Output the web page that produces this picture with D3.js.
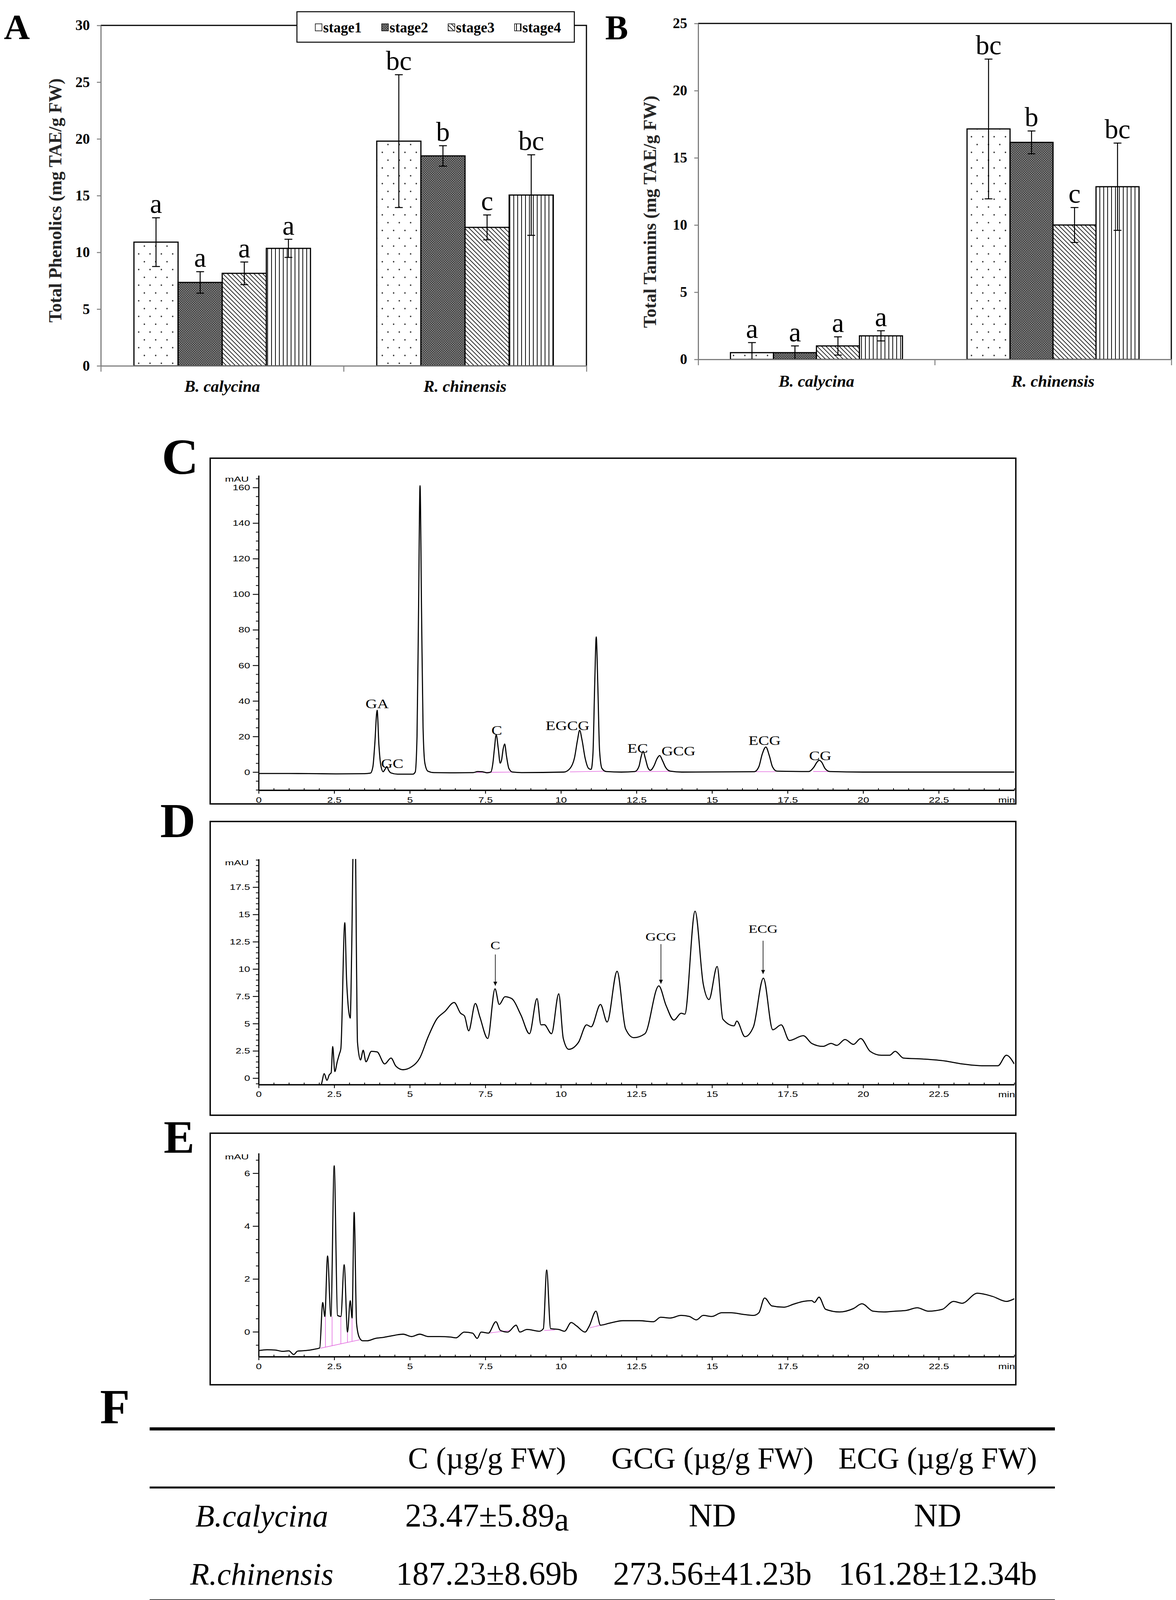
<!DOCTYPE html>
<html>
<head>
<meta charset="utf-8">
<script src="https://cdn.jsdelivr.net/npm/d3@7"></script>
<style>
  body { margin: 0; background: #fff; }
  svg { display: block; }
</style>
</head>
<body>
<svg id="fig" width="3010" height="4126"></svg>
<script>
// ---------- data ----------
const groups = ['B. calycina', 'R. chinensis'];
const stages = ['stage1', 'stage2', 'stage3', 'stage4'];

const phenolicsMean = [[10.9, 7.35, 8.15, 10.35], [19.8, 18.5, 12.2, 15.05]];
const phenolicsErr = [[2.15, 0.95, 1.0, 0.8], [5.85, 0.9, 1.1, 3.55]];
const phenolicsLetters = [['a', 'a', 'a', 'a'], ['bc', 'b', 'c', 'bc']];

const tanninsMean = [[0.5, 0.5, 1.0, 1.75], [17.15, 16.15, 10.0, 12.85]];
const tanninsErr = [[0.75, 0.5, 0.68, 0.38], [5.2, 0.85, 1.3, 3.25]];
const tanninsLetters = [['a', 'a', 'a', 'a'], ['bc', 'b', 'c', 'bc']];

// chromatogram traces [min, mAU]
const chromC = [[0, -0.8], [1.0, -0.8], [1.9, -0.9], [2.6, -1.0], [3.5, -0.9], [3.7, -0.6], [3.78, 3], [3.84, 15], [3.92, 34.8], [3.98, 15], [4.04, 4], [4.12, 0.2], [4.18, 1.5], [4.24, 3.1], [4.3, 1], [4.38, -0.5], [4.6, -1.2], [5.1, -1.2], [5.18, 0], [5.24, 20], [5.29, 90], [5.34, 161], [5.39, 90], [5.44, 25], [5.5, 5], [5.6, 0.5], [5.8, -0.3], [6.5, -0.4], [7.1, -0.3], [7.25, 0.3], [7.4, 0.2], [7.55, -0.4], [7.68, 0], [7.75, 5], [7.8, 13], [7.86, 21], [7.93, 13], [7.99, 5], [8.04, 7], [8.09, 13], [8.14, 15.8], [8.2, 9], [8.28, 2], [8.4, 0], [8.7, -0.3], [10.1, 0], [10.3, 2], [10.45, 8], [10.55, 18], [10.62, 23.5], [10.7, 18], [10.8, 8], [10.92, 2], [11.0, 1.5], [11.06, 10], [11.12, 50], [11.17, 76], [11.22, 50], [11.28, 12], [11.36, 2], [11.5, 0.3], [12.0, 0], [12.45, 0.3], [12.58, 3], [12.66, 9], [12.72, 11.7], [12.79, 8], [12.88, 2.5], [12.96, 1], [13.08, 3.5], [13.18, 7.5], [13.27, 9.3], [13.36, 6.5], [13.47, 2.5], [13.62, 0.5], [14.0, 0], [16.4, 0.2], [16.55, 3], [16.66, 10], [16.78, 14.1], [16.9, 9], [17.0, 3], [17.15, 0.5], [18.2, 0.3], [18.38, 3], [18.47, 5.5], [18.55, 6.6], [18.63, 5.5], [18.74, 2], [18.9, 0.3], [20, 0], [25, 0]];

const chromD = [[2.0, -1.2], [2.08, -0.54], [2.17, 0.41], [2.26, -0.2], [2.34, 0.32], [2.4, 0.5], [2.45, 2.9], [2.52, 0.6], [2.6, 1.5], [2.67, 2.2], [2.72, 2.7], [2.85, 14.25], [2.91, 9], [2.96, 6.7], [3.03, 5.5], [3.08, 12], [3.13, 21], [3.2, 21], [3.24, 10], [3.27, 3.3], [3.37, 1.66], [3.46, 2.55], [3.55, 1.5], [3.73, 2.46], [3.92, 2.4], [4.17, 1.3], [4.38, 1.84], [4.54, 1.1], [4.78, 0.77], [5.06, 1.04], [5.33, 1.84], [5.61, 3.8], [5.89, 5.4], [6.16, 6.1], [6.47, 6.93], [6.68, 5.95], [6.81, 5.7], [6.95, 4.34], [7.17, 6.84], [7.32, 5.6], [7.58, 3.63], [7.82, 8.18], [7.96, 6.75], [8.15, 7.46], [8.37, 7.29], [8.68, 5.77], [8.96, 4.07], [9.21, 7.29], [9.34, 4.88], [9.45, 4.9], [9.69, 4.07], [9.93, 7.73], [10.08, 3.63], [10.26, 2.64], [10.58, 3.27], [10.85, 4.88], [11.0, 4.7], [11.31, 6.75], [11.53, 5.14], [11.86, 9.79], [12.14, 4.52], [12.41, 3.71], [12.78, 4.07], [13.24, 8.45], [13.48, 6.66], [13.74, 5.32], [13.98, 5.95], [14.1, 5.86], [14.44, 15.3], [14.71, 8.63], [14.9, 7.2], [15.17, 10.23], [15.36, 5.4], [15.73, 4.79], [15.82, 5.23], [16.09, 3.8], [16.37, 4.7], [16.7, 9.16], [17.01, 4.43], [17.29, 4.88], [17.56, 3.45], [18.02, 3.89], [18.3, 3.18], [18.67, 2.91], [18.94, 3.18], [19.13, 3.0], [19.4, 3.54], [19.68, 3.09], [19.92, 3.63], [20.23, 2.46], [20.6, 2.1], [20.88, 2.1], [21.06, 2.46], [21.33, 1.84], [21.98, 1.75], [22.71, 1.57], [23.27, 1.3], [24.0, 1.13], [24.46, 1.13], [24.74, 2.1], [25.0, 1.3]];

const chromE = [[0, -0.71], [0.28, -0.68], [0.55, -0.69], [0.79, -0.74], [1.0, -0.72], [1.16, -0.86], [1.29, -0.73], [1.56, -0.71], [1.84, -0.66], [2.02, -0.61], [2.12, 1.11], [2.19, 0.58], [2.28, 2.87], [2.39, 0.58], [2.5, 6.28], [2.61, 0.62], [2.72, 0.58], [2.83, 2.54], [2.94, -0.01], [3.03, 1.18], [3.09, 0.52], [3.16, 4.52], [3.24, 0.32], [3.33, -0.21], [3.44, -0.34], [3.59, -0.34], [3.86, -0.25], [4.14, -0.21], [4.41, -0.15], [4.78, -0.09], [5.06, -0.18], [5.33, -0.09], [5.61, -0.18], [5.98, -0.18], [6.35, -0.2], [6.53, -0.23], [6.8, -0.01], [7.08, -0.05], [7.23, -0.25], [7.36, -0.01], [7.6, -0.05], [7.85, 0.38], [8.0, 0.05], [8.24, -0.01], [8.52, 0.25], [8.64, -0.01], [8.88, 0.09], [9.29, 0.02], [9.42, 0.12], [9.53, 2.34], [9.66, 0.12], [9.93, 0.09], [10.12, 0.02], [10.34, 0.35], [10.52, 0.22], [10.8, -0.01], [10.94, 0.22], [11.16, 0.78], [11.31, 0.25], [11.59, 0.32], [12.05, 0.42], [12.6, 0.42], [13.06, 0.38], [13.3, 0.55], [13.61, 0.52], [13.98, 0.62], [14.25, 0.58], [14.48, 0.45], [14.71, 0.62], [14.99, 0.58], [15.32, 0.72], [15.63, 0.72], [16.09, 0.65], [16.37, 0.62], [16.55, 0.72], [16.74, 1.28], [16.98, 0.98], [17.38, 0.93], [17.71, 1.05], [18.02, 1.15], [18.3, 1.18], [18.39, 1.11], [18.54, 1.31], [18.76, 0.85], [19.22, 0.75], [19.68, 0.88], [19.96, 1.06], [20.33, 0.78], [20.69, 0.75], [21.06, 0.78], [21.43, 0.81], [21.79, 0.91], [22.16, 0.78], [22.62, 0.85], [22.99, 1.15], [23.27, 1.08], [23.78, 1.46], [24.28, 1.34], [24.74, 1.15], [25.0, 1.25]];

// integration baselines (pink) [[t1, v1], [t2, v2]]
const pinkC = [[[7.2, -0.2], [8.4, 0]], [[10.3, 0.1], [11.5, 0.5]], [[12.45, 0.2], [13.7, 0.4]], [[16.45, 0.2], [17.1, 0.2]], [[18.35, 0.3], [18.85, 0.3]]];
const pinkE = [[[2.05, -0.62], [3.35, -0.3]], [[2.21, -0.58], [2.21, 0.6]], [[2.43, -0.53], [2.43, 0.58]], [[2.72, -0.46], [2.72, 0.58]], [[2.94, -0.4], [2.94, 0]], [[3.09, -0.36], [3.09, 0.52]], [[7.6, -0.05], [8.3, 0.05]], [[9.45, 0.05], [9.8, 0.07]], [[10.95, 0.15], [11.5, 0.3]]];

// peak labels: name, time (min), label baseline (mAU)
const labelsC = [['GA', 3.92, 36], ['GC', 4.42, 2.3], ['C', 7.88, 21], ['EGCG', 10.22, 23.6], ['EC', 12.54, 10.9], ['GCG', 13.89, 9.3], ['ECG', 16.74, 15.3], ['CG', 18.58, 6.7]];
const labelsD = [['C', 7.83, 11.8], ['GCG', 13.31, 12.6], ['ECG', 16.69, 13.3]];
// arrows: time, from (mAU), to (mAU)
const arrowsD = [[7.83, 11.33, 8.47], [13.31, 12.28, 8.65], [16.69, 12.59, 9.55]];

const tableCols = ['C (µg/g FW)', 'GCG (µg/g FW)', 'ECG (µg/g FW)'];
const tableRows = ['B.calycina', 'R.chinensis'];
const tableVals = [['23.47±5.89', 'ND', 'ND'], ['187.23±8.69', '273.56±41.23', '161.28±12.34']];
const tableSig = [['a', '', ''], ['b', 'b', 'b']];

// ---------- setup ----------
const serif = '"Liberation Serif", "Times New Roman", serif';
const sans = '"Liberation Sans", Arial, sans-serif';
const svg = d3.select('#fig');
svg.append('rect').attr('width', 3010).attr('height', 4126).attr('fill', '#fff');
const defs = svg.append('defs');

const makePattern = (id, w, h, transform) => {
    const p = defs.append('pattern')
        .attr('id', id)
        .attr('patternUnits', 'userSpaceOnUse')
        .attr('width', w)
        .attr('height', h);
    if (transform) p.attr('patternTransform', transform);
    p.append('rect').attr('width', w).attr('height', h).attr('fill', '#fff');
    return p;
};
const pat1 = makePattern('stage1', 29, 40);
pat1.append('circle').attr('cx', 7).attr('cy', 10).attr('r', 1.9).attr('fill', '#333');
pat1.append('circle').attr('cx', 21.5).attr('cy', 30).attr('r', 1.9).attr('fill', '#333');
const pat2 = makePattern('stage2', 6, 6);
pat2.select('rect').attr('fill', '#8e8e8e');
pat2.append('path').attr('d', 'M0,0L6,6M6,0L0,6').attr('stroke', '#262626').attr('stroke-width', 1.1);
const pat3 = makePattern('stage3', 8, 8, 'rotate(-45)');
pat3.append('line').attr('x1', 4).attr('y1', 0).attr('x2', 4).attr('y2', 8).attr('stroke', '#000').attr('stroke-width', 1.7);
const pat4 = makePattern('stage4', 10, 10);
pat4.append('line').attr('x1', 5).attr('y1', 0).attr('x2', 5).attr('y2', 10).attr('stroke', '#000').attr('stroke-width', 1.9);

defs.append('marker')
    .attr('id', 'arrowHead')
    .attr('viewBox', '0 0 10 10')
    .attr('refX', 10).attr('refY', 5)
    .attr('markerWidth', 10).attr('markerHeight', 12)
    .attr('markerUnits', 'userSpaceOnUse')
    .attr('orient', 'auto')
    .append('path').attr('d', 'M0,0L10,5L0,10Z').attr('fill', '#000');

const panelLetter = (txt, x, y, size) => {
    svg.append('text')
        .attr('x', x).attr('y', y)
        .attr('font-family', serif)
        .attr('font-weight', 'bold')
        .attr('font-size', size)
        .text(txt);
};

// text stretched horizontally (the chromatograms are widened in the figure)
const wideText = (parent, x, y, str, size, anchor, sx, family) => {
    return parent.append('text')
        .attr('transform', `translate(${x},${y}) scale(${sx},1)`)
        .attr('text-anchor', anchor)
        .attr('font-family', family)
        .attr('font-size', size)
        .text(str);
};

// ---------- bar panels ----------
const renderBarPanel = (opt) => {
    const y = d3.scaleLinear().domain([0, opt.max]).range([opt.yBot, opt.yTop]);
    const xg = d3.scaleBand().domain(groups).range([opt.x0, opt.x1])
        .paddingInner(0.273).paddingOuter(0.1365);
    const xs = d3.scaleBand().domain(stages).range([0, xg.bandwidth()]);
    const g = svg.append('g');

    const rows = groups.flatMap((grp, gi) => stages.map((s, si) => ({
        grp, s, mean: opt.means[gi][si], err: opt.errs[gi][si], letter: opt.letters[gi][si]
    })));

    // frame top + right
    g.append('path')
        .attr('d', `M${opt.x0},${opt.yTop}H${opt.x1}V${opt.yBot}`)
        .attr('fill', 'none').attr('stroke', '#000').attr('stroke-width', 3);

    g.append('g').selectAll('rect').data(rows).enter().append('rect')
        .attr('x', d => xg(d.grp) + xs(d.s))
        .attr('width', xs.bandwidth())
        .attr('y', d => y(d.mean))
        .attr('height', d => y(0) - y(d.mean))
        .attr('fill', d => `url(#${d.s})`)
        .attr('stroke', '#000')
        .attr('stroke-width', 3);

    const cx = d => xg(d.grp) + xs(d.s) + xs.bandwidth() / 2;
    const eb = g.append('g').attr('stroke', '#000').attr('stroke-width', 2.5);
    eb.selectAll('path').data(rows).enter().append('path')
        .attr('fill', 'none')
        .attr('d', d => {
            const top = y(d.mean + d.err);
            const bot = y(Math.max(0, d.mean - d.err));
            const x = cx(d);
            return `M${x},${bot}V${top}M${x - 10},${top}H${x + 10}M${x - 10},${bot}H${x + 10}`;
        });

    g.append('g').selectAll('text').data(rows).enter().append('text')
        .attr('x', cx)
        .attr('y', d => y(d.mean + d.err) - 12)
        .attr('text-anchor', 'middle')
        .attr('font-family', serif)
        .attr('font-size', 70)
        .text(d => d.letter);

    // y axis
    const ya = g.append('g').attr('transform', `translate(${opt.x0},0)`)
        .call(d3.axisLeft(y).tickValues(d3.range(0, opt.max + 1, 5)).tickSize(10).tickPadding(18).tickSizeOuter(0));
    ya.select('.domain').attr('stroke', '#7f7f7f').attr('stroke-width', 3);
    ya.selectAll('.tick line').attr('stroke', '#7f7f7f').attr('stroke-width', 2.5);
    ya.selectAll('text')
        .attr('font-family', serif).attr('font-weight', 'bold')
        .attr('font-size', 37).attr('fill', '#000');

    // x axis with group boundary ticks
    const xb = d3.scaleLinear().domain([0, groups.length]).range([opt.x0, opt.x1]);
    const xa = g.append('g').attr('transform', `translate(0,${opt.yBot})`)
        .call(d3.axisBottom(xb).tickValues(d3.range(groups.length + 1)).tickFormat('').tickSize(15).tickSizeOuter(0));
    xa.select('.domain').attr('stroke', '#7f7f7f').attr('stroke-width', 3);
    xa.selectAll('.tick line').attr('stroke', '#7f7f7f').attr('stroke-width', 2.5);

    const xl = g.append('g').attr('transform', `translate(0,${opt.yBot})`)
        .call(d3.axisBottom(xg).tickSize(0).tickPadding(opt.labelPad));
    xl.select('.domain').remove();
    xl.selectAll('text')
        .attr('font-family', serif).attr('font-weight', 'bold').attr('font-style', 'italic')
        .attr('font-size', 42).attr('fill', '#000');

    // y label
    g.append('text')
        .attr('transform', `translate(${opt.ylx},${opt.yly}) rotate(-90)`)
        .attr('text-anchor', 'middle')
        .attr('dominant-baseline', 'central')
        .attr('font-family', serif).attr('font-weight', 'bold')
        .attr('font-size', 46).attr('fill', '#262626')
        .text(opt.ylabel);
    return g;
};

renderBarPanel({
    x0: 258, x1: 1501, yTop: 65, yBot: 936.5, max: 30,
    means: phenolicsMean, errs: phenolicsErr, letters: phenolicsLetters,
    ylabel: 'Total Phenolics (mg TAE/g FW)', ylx: 141, yly: 513, labelPad: 37
});
renderBarPanel({
    x0: 1787, x1: 2998, yTop: 60, yBot: 920, max: 25,
    means: tanninsMean, errs: tanninsErr, letters: tanninsLetters,
    ylabel: 'Total Tannins (mg TAE/g FW)', ylx: 1663, yly: 542, labelPad: 40
});

// legend (panel A)
const legend = svg.append('g');
legend.append('rect')
    .attr('x', 760).attr('y', 30).attr('width', 710).attr('height', 78)
    .attr('fill', '#fff').attr('stroke', '#000').attr('stroke-width', 2.5);
const lx = d3.scalePoint().domain(stages).range([807, 1317]);
const li = legend.selectAll('g.item').data(stages).enter().append('g')
    .attr('class', 'item')
    .attr('transform', d => `translate(${lx(d)},70)`);
li.append('rect')
    .attr('x', 0).attr('y', -9).attr('width', 17).attr('height', 18)
    .attr('fill', d => `url(#${d})`).attr('stroke', '#000').attr('stroke-width', 1.5);
li.append('text')
    .attr('x', 20).attr('y', 0)
    .attr('dominant-baseline', 'central')
    .attr('font-family', serif).attr('font-weight', 'bold').attr('font-size', 37)
    .text(d => d);

panelLetter('A', 10, 100, 92);
panelLetter('B', 1549, 100, 88);

// ---------- chromatograms ----------
const tx = d3.scaleLinear().domain([0, 25]).range([662, 2596]);
const majorX = d3.range(0, 10).map(k => k * 2.5);
const minorX = d3.range(1, 51).map(k => k * 0.5).filter(v => !majorX.includes(v));
const SX = 1.27;

const stepValues = (lo, hi, step) => d3.range(Math.ceil(lo / step - 1e-9), Math.floor(hi / step + 1e-9) + 1).map(k => +(k * step).toFixed(4));

const renderChrom = (opt) => {
    const g = svg.append('g');
    const y = d3.scaleLinear().domain(opt.yDomain).range([opt.yBot, opt.yTop]);

    g.append('rect')
        .attr('x', 538).attr('y', opt.boxTop)
        .attr('width', 2600 - 538).attr('height', opt.boxBot - opt.boxTop)
        .attr('fill', 'none').attr('stroke', '#000').attr('stroke-width', 3.5);

    const clipId = `clip${opt.id}`;
    defs.append('clipPath').attr('id', clipId).append('rect')
        .attr('x', tx(0)).attr('y', opt.yTop)
        .attr('width', tx(25) - tx(0)).attr('height', opt.yBot - opt.yTop);

    const plot = g.append('g').attr('clip-path', `url(#${clipId})`);
    const line = d3.line().x(d => tx(d[0])).y(d => y(d[1]));
    plot.selectAll('path.pink').data(opt.pinks || []).enter().append('path')
        .attr('class', 'pink')
        .attr('d', line)
        .attr('fill', 'none').attr('stroke', '#e36ee0').attr('stroke-width', 1.6);
    plot.append('path')
        .datum(opt.trace)
        .attr('d', line.curve(d3.curveMonotoneX))
        .attr('fill', 'none').attr('stroke', '#000').attr('stroke-width', 2.8)
        .attr('stroke-linejoin', 'round');

    // y axis: labelled ticks up to opt.labelMax, minor ticks over the full range
    const [lo, hi] = opt.yDomain;
    const majorY = stepValues(0, opt.labelMax, opt.majorStep);
    const minorY = stepValues(lo, hi, opt.minorStep).filter(v => !majorY.includes(v));
    const ya = g.append('g').attr('transform', `translate(${tx(0)},0)`)
        .call(d3.axisLeft(y).tickValues(majorY).tickFormat(d => String(d))
            .tickSize(15).tickPadding(7).tickSizeOuter(0));
    ya.select('.domain').attr('stroke-width', 3);
    ya.selectAll('.tick line').attr('stroke-width', 2.2);
    ya.selectAll('text')
        .attr('font-family', sans).attr('font-size', 21)
        .attr('transform', `scale(${SX},1)`)
        .attr('x', -22 / SX);
    const ym = g.append('g').attr('transform', `translate(${tx(0)},0)`)
        .call(d3.axisLeft(y).tickValues(minorY).tickSize(7).tickFormat('').tickSizeOuter(0));
    ym.select('.domain').remove();
    ym.selectAll('.tick line').attr('stroke-width', 2);

    wideText(g, 637, opt.yTop + 16, 'mAU', 19, 'end', 1.45, sans);

    // x axis
    const xa = g.append('g').attr('transform', `translate(0,${opt.yBot})`)
        .call(d3.axisBottom(tx).tickValues(majorX).tickSize(9).tickPadding(8).tickSizeOuter(0)
            .tickFormat(d => String(d)));
    xa.select('.domain').attr('stroke-width', 3.5);
    xa.selectAll('.tick line').attr('stroke-width', 2.2);
    xa.selectAll('text')
        .attr('font-family', sans).attr('font-size', 21)
        .attr('transform', `scale(${SX},1)`);
    const xm = g.append('g').attr('transform', `translate(0,${opt.yBot})`)
        .call(d3.axisBottom(tx).tickValues(minorX).tickSize(-5).tickFormat('').tickSizeOuter(0));
    xm.select('.domain').remove();
    xm.selectAll('.tick line').attr('stroke-width', 2);
    wideText(g, 2598, opt.yBot + 32, 'min', 21, 'end', SX, sans);

    // peak labels
    (opt.labels || []).forEach(([name, t, v]) => {
        wideText(g, tx(t), y(v), name, opt.labelSize, 'middle', 1.25, serif);
    });
    (opt.arrows || []).forEach(([t, v1, v2]) => {
        g.append('line')
            .attr('x1', tx(t)).attr('x2', tx(t))
            .attr('y1', y(v1)).attr('y2', y(v2))
            .attr('stroke', '#000').attr('stroke-width', 1.6)
            .attr('marker-end', 'url(#arrowHead)');
    });
    return g;
};

renderChrom({
    id: 'C', boxTop: 1173, boxBot: 2058, yTop: 1217, yBot: 2022.7, yDomain: [-10.15, 166.8],
    majorStep: 20, labelMax: 160, minorStep: 5, trace: chromC, pinks: pinkC, labels: labelsC, labelSize: 33
});
renderChrom({
    id: 'D', boxTop: 2103, boxBot: 2855, yTop: 2199, yBot: 2776.5, yDomain: [-0.59, 20.08],
    majorStep: 2.5, labelMax: 17.5, minorStep: 0.5, trace: chromD, labels: labelsD, arrows: arrowsD, labelSize: 30
});
renderChrom({
    id: 'E', boxTop: 2901, boxBot: 3545, yTop: 2952, yBot: 3473, yDomain: [-0.94, 6.76],
    majorStep: 2, labelMax: 6, minorStep: 0.5, trace: chromE, pinks: pinkE
});

panelLetter('C', 414, 1213, 130);
panelLetter('D', 410, 2143, 125);
panelLetter('E', 419, 2951, 118);
panelLetter('F', 256, 3643, 125);

// ---------- table F ----------
const tbl = svg.append('g');
const colX = d3.scalePoint().domain(['label', ...tableCols]).range([670, 2400]);
const rowY = d3.scalePoint().domain(['header', ...tableRows]).range([3759, 4057]);

[[3658, 8], [3808, 5], [4100, 11]].forEach(([yy, w]) => {
    tbl.append('line')
        .attr('x1', 383).attr('x2', 2700).attr('y1', yy).attr('y2', yy)
        .attr('stroke', '#000').attr('stroke-width', w);
});

tbl.selectAll('text.head').data(tableCols).enter().append('text')
    .attr('class', 'head')
    .attr('x', d => colX(d)).attr('y', rowY('header'))
    .attr('text-anchor', 'middle')
    .attr('font-family', serif).attr('font-size', 78)
    .text(d => d);

tbl.selectAll('text.row').data(tableRows).enter().append('text')
    .attr('class', 'row')
    .attr('x', colX('label')).attr('y', d => rowY(d))
    .attr('text-anchor', 'middle')
    .attr('font-family', serif).attr('font-style', 'italic').attr('font-size', 80)
    .text(d => d);

tableRows.forEach((r, ri) => {
    tableCols.forEach((c, ci) => {
        const t = tbl.append('text')
            .attr('x', colX(c)).attr('y', rowY(r))
            .attr('text-anchor', 'middle')
            .attr('font-family', serif).attr('font-size', 84);
        t.append('tspan').text(tableVals[ri][ci]);
        if (tableSig[ri][ci]) {
            t.append('tspan')
                .attr('dy', ri === 0 ? 10 : 0)
                .text(tableSig[ri][ci]);
        }
    });
});
</script>
</body>
</html>
